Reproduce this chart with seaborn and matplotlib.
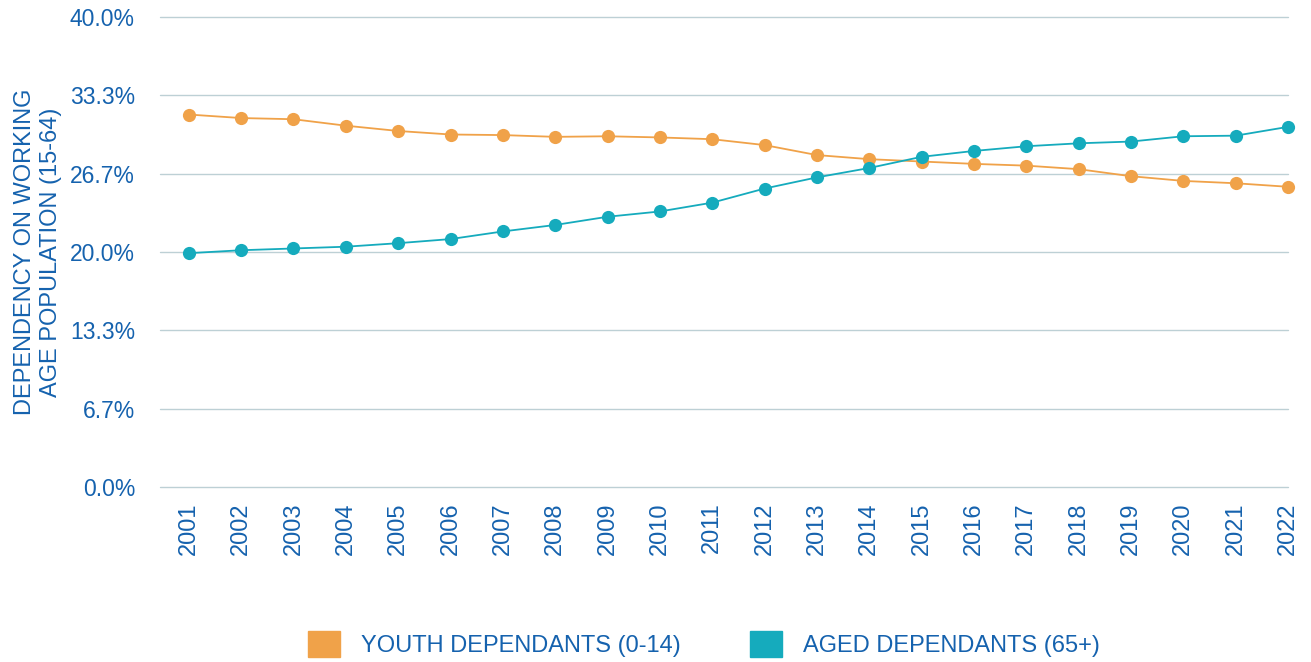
import numpy as np
import pandas as pd
import matplotlib
matplotlib.use("Agg")
import matplotlib.pyplot as plt
import matplotlib.patches as mpatches
from matplotlib.ticker import FuncFormatter
import seaborn as sns

# data
years = list(range(2001, 2023))
youth = [31.7, 31.4, 31.3, 30.75, 30.3, 30.0, 29.95, 29.8, 29.85, 29.75, 29.6,
         29.1, 28.25, 27.9, 27.7, 27.5, 27.35, 27.05, 26.45, 26.05, 25.85, 25.55]
aged = [19.9, 20.15, 20.3, 20.45, 20.75, 21.1, 21.75, 22.3, 23.0, 23.45, 24.2,
        25.4, 26.35, 27.15, 28.1, 28.6, 29.0, 29.25, 29.4, 29.85, 29.9, 30.65]
series_names = ["YOUTH DEPENDANTS (0-14)", "AGED DEPENDANTS (65+)"]
y_ticks = [0, 40 / 6, 80 / 6, 20, 160 / 6, 200 / 6, 40]

text_color = "#1562AE"
palette = {series_names[0]: "#F0A249", series_names[1]: "#15ABBD"}

df = pd.DataFrame({
    "year": years * 2,
    "value": youth + aged,
    "series": [series_names[0]] * len(years) + [series_names[1]] * len(years),
})

sns.set_style("white")
plt.rcParams["font.family"] = ["Liberation Sans", "DejaVu Sans"]

fig = plt.figure(figsize=(13.11, 6.62), dpi=100)
ax = fig.add_axes([160 / 1311, 1 - 487 / 662, (1288 - 160) / 1311, (487 - 17) / 662])

sns.lineplot(data=df, x="year", y="value", hue="series", palette=palette,
             marker="o", markersize=9.5, markeredgewidth=0, linewidth=1.3,
             ax=ax, legend=False, clip_on=False)

ax.set_xlim(2000.45, 2022)
ax.set_ylim(0, 40)
ax.set_yticks(y_ticks)
ax.yaxis.set_major_formatter(FuncFormatter(lambda v, p: f"{v:.1f}%"))
ax.set_xticks(years)
ax.set_xticklabels([str(y) for y in years], rotation=90)
ax.tick_params(axis="both", colors=text_color, length=0)
ax.tick_params(axis="y", labelsize=16.5, pad=18)
ax.tick_params(axis="x", labelsize=17, pad=11)
ax.grid(axis="y", color="#BDD0D5", linewidth=1)
for gl in ax.get_ygridlines():
    gl.set_clip_on(False)
ax.set_axisbelow(True)
for s in ax.spines.values():
    s.set_visible(False)

ax.set_xlabel("")
ax.set_ylabel("DEPENDENCY ON WORKING\nAGE POPULATION (15-64)", color=text_color,
              fontsize=17, linespacing=1.2)
ax.yaxis.set_label_coords(-0.087, 0.5)

handles = [mpatches.Patch(color=palette[n], label=n) for n in series_names]
fig.legend(handles=handles, loc="center", bbox_to_anchor=(704 / 1311, 1 - 644 / 662),
           ncol=2, frameon=False, fontsize=17, labelcolor=text_color,
           handlelength=1.35, handleheight=1.35, handletextpad=0.9, columnspacing=2.9)

fig.savefig("out.png", dpi=100)
